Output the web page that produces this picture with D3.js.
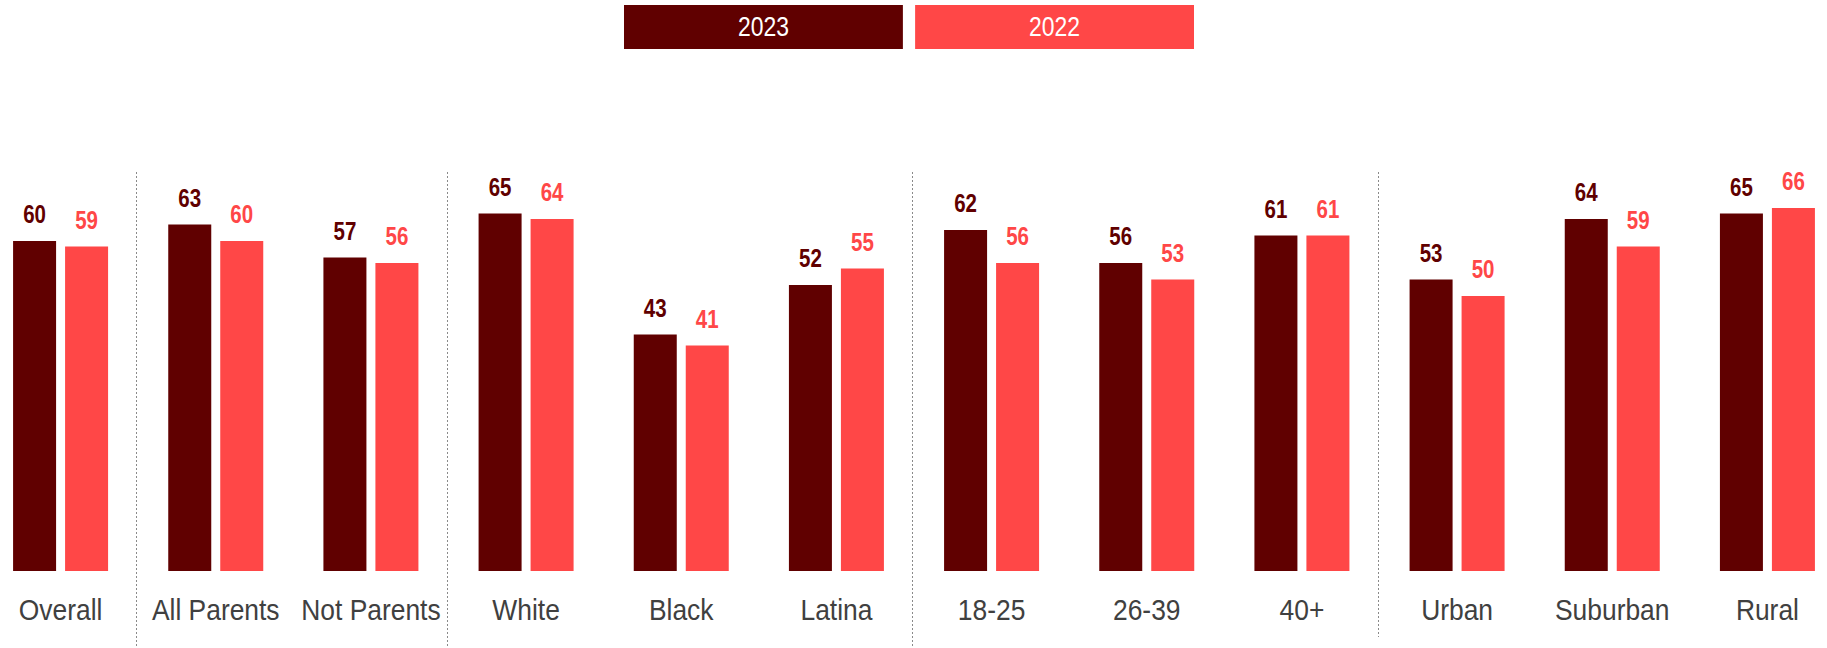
<!DOCTYPE html>
<html><head><meta charset="utf-8">
<script src="https://cdn.jsdelivr.net/npm/d3@7"></script>
<style>
html,body{margin:0;padding:0;background:#fff;}
text{font-family:"Liberation Sans Narrow","Liberation Sans",Arial,sans-serif;}
</style></head>
<body><svg id="chart" width="1827" height="648"></svg>
<script>
const categories = ["Overall","All Parents","Not Parents","White","Black","Latina","18-25","26-39","40+","Urban","Suburban","Rural"];
const series = ["2023","2022"];
const values2023 = [60,63,57,65,43,52,62,56,61,53,64,65];
const values2022 = [59,60,56,64,41,55,56,53,61,50,59,66];
const dividerAfter = ["Overall","Not Parents","Latina","40+"];

const colors = {"2023":"#600000","2022":"#FF4747"};
const svg = d3.select("#chart");
const W = 1827, H = 648;
const SX = 0.82;   // condensed look for numbers
const SXA = 0.88;  // condensed look for category labels

const x0 = d3.scaleBand().domain(categories).range([-17, 1845]).paddingInner(0).paddingOuter(0);
const step = x0.step();
const innerW = 95;
const x1 = d3.scaleBand().domain(series).range([(step-innerW)/2, (step+innerW)/2]).paddingInner(0.173).paddingOuter(0);
const y = d3.scaleLinear().domain([0,100]).range([571, 21]);

const data = categories.map((c,i)=>({cat:c, vals:[{s:"2023",v:values2023[i]},{s:"2022",v:values2022[i]}]}));

// dividers
dividerAfter.forEach((c,i)=>{
  const xx = Math.round(x0(c)+step) - 2 + 0.5;
  svg.append("line").attr("x1",xx).attr("x2",xx).attr("y1",172)
    .attr("y2", i===dividerAfter.length-1 ? 637 : H)
    .attr("stroke","#8a8a8a").attr("stroke-width",1).attr("stroke-dasharray","2,2");
});

const g = svg.selectAll("g.cat").data(data).join("g").attr("class","cat")
  .attr("transform",d=>`translate(${x0(d.cat)},0)`);

g.selectAll("rect").data(d=>d.vals).join("rect")
  .attr("x",d=>x1(d.s)).attr("width",x1.bandwidth())
  .attr("y",d=>y(d.v)).attr("height",d=>y(0)-y(d.v))
  .attr("fill",d=>colors[d.s]);

g.selectAll("text.val").data(d=>d.vals).join("text").attr("class","val")
  .attr("transform",d=>`translate(${x1(d.s)+x1.bandwidth()/2},${y(d.v)-18}) scale(${SX},1)`)
  .attr("text-anchor","middle").attr("font-size",25).attr("font-weight","bold")
  .attr("fill",d=>colors[d.s]).text(d=>d.v);

// category axis labels
const xAxis = d3.axisBottom(x0).tickSize(0).tickPadding(0);
const ax = svg.append("g").attr("transform","translate(0,620)").call(xAxis);
ax.select(".domain").remove();
ax.selectAll("text").attr("font-size",30).attr("fill","#404040").attr("dy",0).attr("y",0)
  .attr("transform",`scale(${SXA},1)`)
  .style("font-family",'"Liberation Sans Narrow","Liberation Sans",Arial,sans-serif');

// legend
const legX = d3.scaleBand().domain(series).range([624,1194]).paddingInner(0.042);
const leg = svg.append("g");
leg.selectAll("rect").data(series).join("rect")
  .attr("x",d=>legX(d)).attr("y",5).attr("width",legX.bandwidth()).attr("height",44)
  .attr("fill",d=>colors[d]);
leg.selectAll("text").data(series).join("text")
  .attr("transform",d=>`translate(${legX(d)+legX.bandwidth()/2},36) scale(${SX},1)`)
  .attr("text-anchor","middle").attr("font-size",28).attr("fill","#fff").text(d=>d);
</script></body></html>
